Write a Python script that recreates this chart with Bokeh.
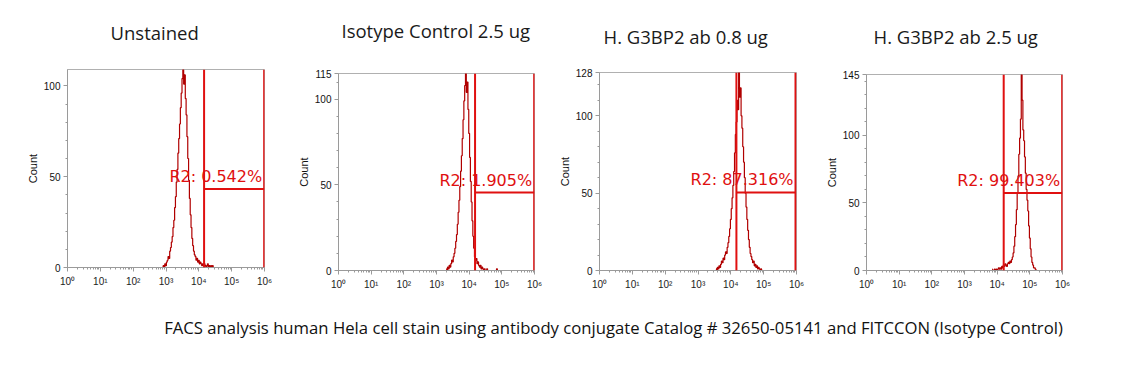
from bokeh.plotting import figure
from bokeh.layouts import row, column
from bokeh.models import Range1d, FixedTicker, Span
from bokeh.core.properties import value
from bokeh.embed import file_html
from bokeh.resources import INLINE

# ---------------- data ----------------
titles = ["Unstained", "Isotype Control 2.5 ug", "H. G3BP2 ab 0.8 ug", "H. G3BP2 ab 2.5 ug"]
caption = "FACS analysis human Hela cell stain using antibody conjugate Catalog # 32650-05141 and FITCCON (Isotype Control)"

bin_step = 0.025  # decades per histogram channel

# start (log10 of first channel) and counts per channel
start_unstained = 2.90
counts_unstained = [0, 1, 0, 2, 1, 3, 4, 6, 5, 9, 11, 14, 17, 22, 26, 33, 39, 47, 54, 63,
                    71, 79, 88, 96, 104, 109, 101, 106, 93, 84, 72, 60, 48, 38, 29, 22, 16, 12, 9, 7,
                    6, 4, 5, 3, 4, 2, 3, 2, 1, 2, 1, 2, 1, 0, 1, 2, 0, 1, 0, 1, 0, 1, 0]

start_isotype = 3.30
counts_isotype = [1, 0, 2, 1, 3, 2, 4, 6, 5, 8, 10, 13, 17, 21, 27, 34, 41, 49, 58, 67,
                  77, 88, 99, 108, 115, 104, 110, 94, 80, 66, 52, 40, 29, 20, 13, 8, 6, 7, 4, 5,
                  3, 2, 3, 1, 2, 1, 0, 1, 0, 0, 1, 0, 0, 0, 0, 0, 0, 0, 0, 0, 0, 0, 1, 0]

start_ab08 = 3.55
counts_ab08 = [1, 0, 2, 1, 3, 2, 4, 6, 5, 8, 7, 10, 12, 11, 15, 18, 22, 27, 33, 40,
               47, 55, 64, 76, 88, 96, 110, 104, 128, 112, 118, 100, 92, 80, 70, 60, 50, 41, 33, 26,
               20, 15, 11, 9, 7, 5, 6, 3, 4, 2, 3, 1, 2, 1, 0, 1, 0]

start_ab25 = 3.85
counts_ab25 = [1, 0, 0, 1, 0, 1, 0, 1, 2, 1, 2, 1, 3, 2, 4, 3, 5, 4, 3, 5,
               6, 5, 7, 6, 8, 10, 13, 18, 25, 34, 45, 57, 70, 86, 98, 112, 145, 126, 104, 96,
               84, 72, 60, 52, 44, 33, 24, 16, 10, 6, 4, 2, 2, 1, 0]

y_max = [109, 115, 128, 145]
y_major = [[0, 50, 100], [0, 50, 100, 115], [0, 50, 100, 128], [0, 50, 100, 145]]

gate_lo = [14450, 15140, 14790, 15850]
gate_hi = [977000, 977000, 933000, 977000]
gate_level = [43.2, 45.5, 50.5, 57.4]
gate_text = ["R2: 0.542%", "R2: 1.905%", "R2: 87.316%", "R2: 99.403%"]

x_major = [1, 10, 100, 1000, 10000, 100000, 1000000]
x_labels = ["10\u2070", "10\u00b9", "10\u00b2", "10\u00b3", "10\u2074", "10\u2075", "10\u2076"]

starts = [start_unstained, start_isotype, start_ab08, start_ab25]
counts_all = [counts_unstained, counts_isotype, counts_ab08, counts_ab25]

# ---------------- layout (pixels) ----------------
fig_w = [290, 265, 265, 311]
b_left = [67, 48, 44, 46]
b_right = [26, 21, 24, 69]
TITLE_H = 50
b_top = [19, 23, 22, 24]
b_bottom = [25, 22, 22, 20]
FIG_H = 242
title_left = [110, 341, 603, 873]      # pixel positions of the panel titles
title_mid = [32, 30, 36, 36]

HIST = "#b00000"
GATE = "#e01010"
AXIS = "#9a9a9a"

x_minor = [m * 10 ** k for k in range(6) for m in range(2, 10)]
TOTAL_W = sum(fig_w)

# titles strip
tf = figure(width=TOTAL_W, height=TITLE_H, x_range=Range1d(0, TOTAL_W), y_range=Range1d(TITLE_H, 0),
            output_backend="svg", toolbar_location=None, tools="",
            min_border=0, min_border_left=0, min_border_right=0,
            min_border_top=0, min_border_bottom=0)
tf.axis.visible = False
tf.grid.visible = False
tf.outline_line_color = None
tf.text(x=title_left, y=title_mid, text=titles, text_align="left", text_baseline="middle",
        text_font=value("Open Sans"), text_font_size="18.5px", text_color="#1a1a1a")

panels = []
for i in range(4):
    p = figure(width=fig_w[i], height=FIG_H, x_axis_type="log",
               x_range=Range1d(1, 1e6), y_range=Range1d(0, y_max[i]),
               output_backend="svg", toolbar_location=None, tools="",
               min_border_left=b_left[i], min_border_right=b_right[i],
               min_border_top=b_top[i], min_border_bottom=b_bottom[i])
    p.grid.visible = False
    p.background_fill_color = "white"
    p.border_fill_color = "white"
    p.outline_line_color = "#b0b0b0"

    # x axis
    xa = p.xaxis[0]
    xa.ticker = FixedTicker(ticks=x_major, minor_ticks=x_minor)
    xa.major_label_overrides = {t: lab for t, lab in zip(x_major, x_labels)}
    xa.axis_line_color = AXIS
    xa.major_tick_line_color = AXIS
    xa.minor_tick_line_color = AXIS
    xa.major_tick_in = 0
    xa.major_tick_out = 4
    xa.minor_tick_in = 0
    xa.minor_tick_out = 2
    xa.major_label_standoff = 4
    xa.major_label_text_font = "Liberation Sans"
    xa.major_label_text_font_size = "10px"
    xa.major_label_text_color = "#222222"

    # y axis
    ya = p.yaxis[0]
    ya.ticker = FixedTicker(ticks=y_major[i], minor_ticks=list(range(10, y_max[i], 10)))
    ya.axis_line_color = AXIS
    ya.major_tick_line_color = AXIS
    ya.minor_tick_line_color = AXIS
    ya.major_tick_in = 0
    ya.major_tick_out = 4
    ya.minor_tick_in = 0
    ya.minor_tick_out = 2
    ya.major_label_standoff = 3
    ya.major_label_text_font = "Liberation Sans"
    ya.major_label_text_font_size = "10px"
    ya.major_label_text_color = "#111111"
    ya.axis_label = "Count"
    ya.axis_label_text_font = "Liberation Sans"
    ya.axis_label_text_font_size = "11px"
    ya.axis_label_text_font_style = "normal"
    ya.axis_label_text_color = "#111111"
    ya.axis_label_standoff = 2

    # histogram
    c = counts_all[i]
    xs = [10 ** (starts[i] + k * bin_step) for k in range(len(c))]
    p.step(x=xs, y=c, mode="center", line_color=HIST, line_width=1.2)

    # gate
    p.add_layout(Span(location=gate_lo[i], dimension="height", line_color=GATE, line_width=2))
    p.add_layout(Span(location=gate_hi[i], dimension="height", line_color=GATE, line_width=2))
    p.segment(x0=[gate_lo[i]], x1=[gate_hi[i]], y0=[gate_level[i]], y1=[gate_level[i]],
              line_color=GATE, line_width=2)
    p.text(x=[gate_hi[i]], y=[gate_level[i]], text=[gate_text[i]],
           text_align="right", text_baseline="bottom", x_offset=-2, y_offset=-3,
           text_font=value("DejaVu Sans"), text_font_size="16px", text_color=GATE)

    panels.append(column(p))

cap = figure(width=TOTAL_W, height=70, x_range=Range1d(0, TOTAL_W), y_range=Range1d(0, 1),
             output_backend="svg", toolbar_location=None, tools="",
             min_border=0, min_border_left=0, min_border_right=0,
             min_border_top=0, min_border_bottom=0)
cap.axis.visible = False
cap.grid.visible = False
cap.outline_line_color = None
cap.text(x=[613], y=[0.5], text=[caption], text_align="center", text_baseline="middle",
         text_font=value("Open Sans"), text_font_size="16.7px", text_color="#111111")

layout = column(tf, row(*panels), cap)

open("out.html", "w").write(file_html(layout, INLINE))
